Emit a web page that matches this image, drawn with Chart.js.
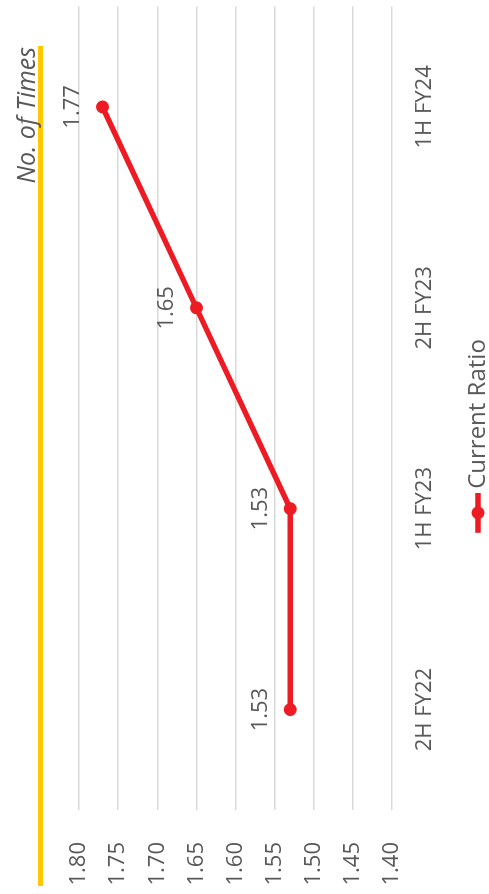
<!DOCTYPE html>
<html lang="en">
<head>
  <meta charset="UTF-8">
  <title>Current Ratio</title>
  <script src="https://cdn.jsdelivr.net/npm/chart.js"></script>
  <style>
    html, body { margin: 0; padding: 0; width: 489px; height: 894px; overflow: hidden; background: #fff; }
    #wrap {
      position: absolute; left: 0; top: 0; width: 894px; height: 489px;
      transform-origin: 0 0;
      transform: translate(0, 894px) rotate(-90deg);
    }
  </style>
</head>
<body>
  <div id="wrap">
    <canvas id="ratioChart" width="894" height="489"></canvas>
  </div>

  <script>
    const periods = ['2H FY22', '1H FY23', '2H FY23', '1H FY24'];
    const currentRatio = [1.53, 1.53, 1.65, 1.77];
    const axisMin = 1.40;
    const axisMax = 1.80;
    const axisStep = 0.05;

    const red = '#ED1C24';
    const grey = '#595959';
    const font = '"Open Sans", sans-serif';

    // legend marker: short line with a dot, drawn on the right of a wider
    // transparent image so the legend sits a little right of centre
    const marker = document.createElement('canvas');
    marker.width = 70;
    marker.height = 14;
    const mctx = marker.getContext('2d');
    mctx.strokeStyle = red;
    mctx.lineWidth = 5.5;
    mctx.beginPath();
    mctx.moveTo(30, 7);
    mctx.lineTo(70, 7);
    mctx.stroke();
    mctx.fillStyle = red;
    mctx.beginPath();
    mctx.arc(50, 7, 6.5, 0, Math.PI * 2);
    mctx.fill();

    const decor = {
      id: 'decor',
      afterDraw(chart) {
        const ctx = chart.ctx;
        ctx.save();
        ctx.fillStyle = '#FFC800';
        ctx.fillRect(8, 38, 840, 5);
        ctx.fillStyle = grey;
        ctx.font = 'italic 25px ' + font;
        ctx.textAlign = 'right';
        ctx.textBaseline = 'alphabetic';
        ctx.fillText('No. of Times', 847, 35);
        ctx.restore();
      }
    };

    const valueLabels = {
      id: 'valueLabels',
      afterDatasetsDraw(chart) {
        const ctx = chart.ctx;
        const meta = chart.getDatasetMeta(0);
        ctx.save();
        ctx.fillStyle = grey;
        ctx.font = '22px ' + font;
        ctx.textAlign = 'center';
        ctx.textBaseline = 'alphabetic';
        meta.data.forEach((pt, i) => {
          ctx.fillText(currentRatio[i].toFixed(2), pt.x, pt.y - 23);
        });
        ctx.restore();
      }
    };

    new Chart(document.getElementById('ratioChart'), {
      type: 'line',
      data: {
        labels: periods,
        datasets: [{
          label: 'Current Ratio',
          data: currentRatio,
          borderColor: red,
          backgroundColor: red,
          borderWidth: 5.5,
          pointRadius: 6.5,
          pointHoverRadius: 6.5,
          pointBackgroundColor: red,
          pointBorderWidth: 0,
          tension: 0
        }]
      },
      options: {
        responsive: false,
        animation: false,
        devicePixelRatio: 1,
        layout: { padding: { top: 79, left: 0, right: 0, bottom: -11 } },
        plugins: {
          tooltip: { enabled: false },
          legend: {
            position: 'bottom',
            labels: {
              usePointStyle: true,
              pointStyle: marker,
              pointStyleWidth: 54,
              padding: 2,
              color: grey,
              font: { family: font, size: 24 }
            }
          }
        },
        scales: {
          x: {
            offset: true,
            grid: { display: false, drawTicks: false },
            border: { display: false },
            ticks: { color: grey, font: { family: font, size: 22 }, padding: 20, maxRotation: 0 },
            afterFit(scale) { scale.height = 72; }
          },
          y: {
            min: axisMin,
            max: axisMax,
            grid: { color: '#D9D9D9', lineWidth: 1.5, drawTicks: false },
            border: { display: false },
            ticks: {
              stepSize: axisStep,
              color: grey,
              font: { family: font, size: 22 },
              padding: 32,
              callback: v => v.toFixed(2)
            },
            afterFit(scale) { scale.width = 84; }
          }
        }
      },
      plugins: [decor, valueLabels]
    });
  </script>
</body>
</html>
